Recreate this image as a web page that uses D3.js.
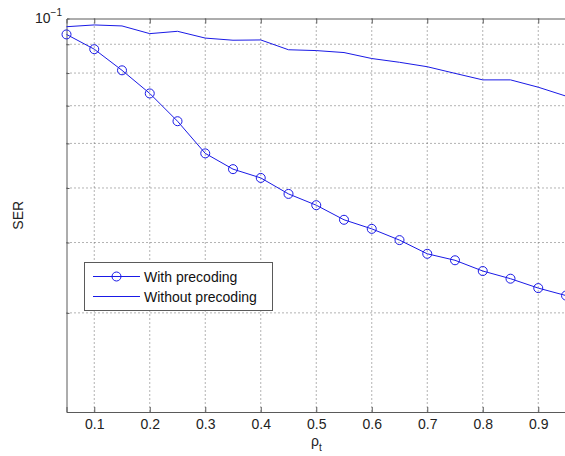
<!DOCTYPE html>
<html>
<head>
<meta charset="utf-8">
<script src="https://cdn.jsdelivr.net/npm/d3@7"></script>
<style>
  body { margin: 0; background: #fff; }
  svg { display: block; font-family: "Liberation Sans", Arial, Helvetica, sans-serif; }
</style>
</head>
<body>
<svg id="chart" width="565" height="456"></svg>
<script>
// ---- data ----
const rho = [0.05,0.10,0.15,0.20,0.25,0.30,0.35,0.40,0.45,0.50,0.55,0.60,0.65,0.70,0.75,0.80,0.85,0.90,0.95];
const withPrecoding = [0.0937,0.0882,0.0809,0.0736,0.0657,0.0576,0.0540,0.0521,0.0488,0.0466,0.0439,0.0423,0.0404,0.0382,0.0372,0.0356,0.0345,0.0332,0.0322];
const withoutPrecoding = [0.0967,0.0974,0.0970,0.0940,0.0949,0.0923,0.0915,0.0916,0.0880,0.0877,0.0870,0.0849,0.0836,0.0821,0.0799,0.0778,0.0778,0.0755,0.0728];
const xTicks = [0.1,0.2,0.3,0.4,0.5,0.6,0.7,0.8,0.9];
const yMinor = [0.09,0.08,0.07,0.06,0.05,0.04,0.03];
const seriesNames = ["With precoding", "Without precoding"];

const svg = d3.select("#chart");
const L = 66.5, R = 566, T = 18.5, B = 412;
const x = d3.scaleLinear().domain([0.05, 0.95]).range([L, R]);
const y = d3.scaleLog().domain([0.02, 0.1]).range([B, T]);
const blue = "#1a1ae6";
const axisColor = "#5a5a5a";

// grid
const grid = svg.append("g");
grid.selectAll("line.vg").data(xTicks).enter().append("line")
  .attr("x1", d => x(d)).attr("x2", d => x(d)).attr("y1", T).attr("y2", B)
  .attr("stroke", "#666").attr("stroke-width", 1).attr("stroke-dasharray", "1,3");
grid.selectAll("line.hg").data(yMinor).enter().append("line")
  .attr("x1", L).attr("x2", R).attr("y1", d => y(d)).attr("y2", d => y(d))
  .attr("stroke", "#666").attr("stroke-width", 1).attr("stroke-dasharray", "1,3");

// axes (MATLAB-style, ticks inside)
const xAxisB = d3.axisBottom(x).tickValues(xTicks).tickSize(-5).tickPadding(7).tickFormat(d3.format(".1f"));
const gxb = svg.append("g").attr("transform", `translate(0,${B})`).call(xAxisB);
gxb.select(".domain").attr("stroke", axisColor);
gxb.selectAll(".tick line").attr("stroke", axisColor);
gxb.selectAll(".tick text").attr("font-size", 14).attr("fill", "#222")
  .attr("font-family", "'Liberation Sans', Arial, sans-serif");

const xAxisT = d3.axisTop(x).tickValues(xTicks).tickSize(-5).tickFormat("");
const gxt = svg.append("g").attr("transform", `translate(0,${T})`).call(xAxisT);
gxt.select(".domain").attr("stroke", axisColor);
gxt.selectAll(".tick line").attr("stroke", axisColor);

const yAxisL = d3.axisLeft(y).tickValues(yMinor).tickSize(-3).tickFormat("");
const gyl = svg.append("g").attr("transform", `translate(${L},0)`).call(yAxisL);
gyl.select(".domain").attr("stroke", axisColor);
gyl.selectAll(".tick line").attr("stroke", axisColor);

// y top label 10^-1
const yl = svg.append("text").attr("x", 35).attr("y", 23).attr("font-size", 14).attr("fill", "#222");
yl.append("tspan").text("10");
yl.append("tspan").attr("dy", -7).attr("font-size", 10).text("\u22121");

// axis titles
svg.append("text").attr("transform", `translate(23,${(T + B) / 2}) rotate(-90)`)
  .attr("text-anchor", "middle").attr("font-size", 14).attr("fill", "#222").text("SER");
const xl = svg.append("text").attr("x", 311).attr("y", 446).attr("font-size", 14).attr("fill", "#222");
xl.append("tspan").text("\u03c1");
xl.append("tspan").attr("dy", 5).attr("font-size", 10).text("t");

// lines
const line = d3.line().x((d, i) => x(rho[i])).y(d => y(d));
svg.append("path").datum(withoutPrecoding).attr("d", line)
  .attr("fill", "none").attr("stroke", blue).attr("stroke-width", 1);
svg.append("path").datum(withPrecoding).attr("d", line)
  .attr("fill", "none").attr("stroke", blue).attr("stroke-width", 1);
svg.selectAll("circle.m").data(withPrecoding).enter().append("circle")
  .attr("cx", (d, i) => x(rho[i])).attr("cy", d => y(d)).attr("r", 4.5)
  .attr("fill", "none").attr("stroke", blue).attr("stroke-width", 1);

// legend
const lg = svg.append("g");
lg.append("rect").attr("x", 84.5).attr("y", 262.5).attr("width", 188).attr("height", 48)
  .attr("fill", "#fff").attr("stroke", axisColor).attr("stroke-width", 1);
const rows = [276.5, 296.5];
seriesNames.forEach((name, i) => {
  lg.append("line").attr("x1", 93).attr("x2", 140).attr("y1", rows[i]).attr("y2", rows[i])
    .attr("stroke", blue).attr("stroke-width", 1);
  if (i === 0) {
    lg.append("circle").attr("cx", 116.5).attr("cy", rows[i]).attr("r", 4.5)
      .attr("fill", "none").attr("stroke", blue);
  }
  lg.append("text").attr("x", 144).attr("y", rows[i] + 5).attr("font-size", 14)
    .attr("fill", "#111").text(name);
});
</script>
</body>
</html>
